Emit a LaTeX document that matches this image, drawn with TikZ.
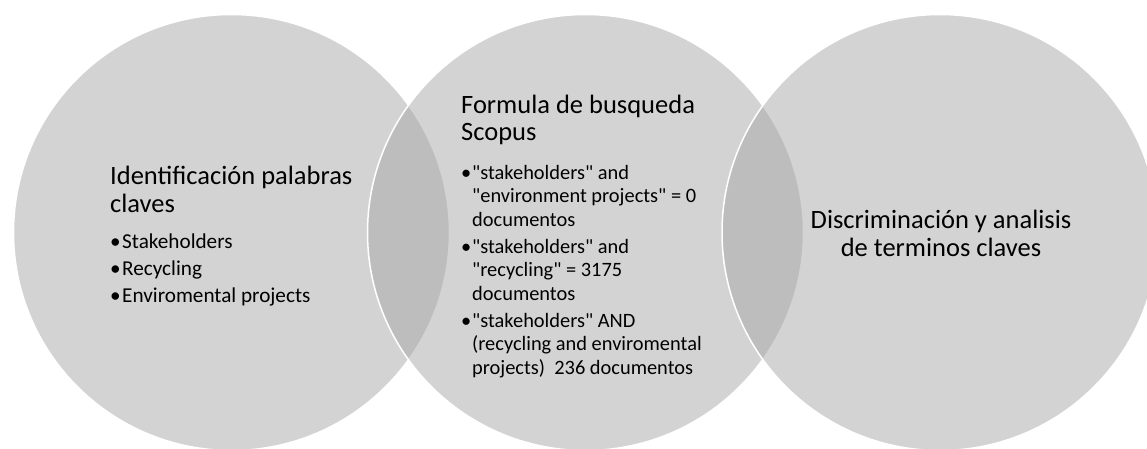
\documentclass[tikz,border=0pt]{standalone}
\usepackage{fontspec}
\setmainfont{Carlito}[Ligatures=TeXOff]
\newcommand{\bitem}[2][11pt]{\par\hangindent=#1\hangafter=1\noindent\makebox[#1][l]{•}#2}
\definecolor{venngray}{RGB}{168,168,168}
\tikzset{
  venn/.style={circle, inner sep=0pt, minimum size=436pt, fill=venngray, fill opacity=0.5, draw=white, line width=1.5pt},
  txt/.style={inner sep=0pt, text=black}
}
\begin{document}
\begin{tikzpicture}[x=1pt,y=-1pt]
\useasboundingbox (0,0) rectangle (1147,449);
\clip (0,0) rectangle (1147,449);
\node[venn] (c1) at (231.5,232.5) {};
\node[venn] (c2) at (585.5,232.5) {};
\node[venn] (c3) at (940,232.5) {};
\node[txt, anchor=base west] (t1) at (110,184) {\begin{minipage}[t]{260pt}\setlength{\parskip}{0pt}%
\fontsize{26.5}{28.6}\selectfont Identificación palabras\\claves\par
\vspace{9.3pt}%
\fontsize{21.2}{23.2}\selectfont\setlength{\parskip}{3.8pt}%
\bitem[12pt]{Stakeholders}%
\bitem[12pt]{Recycling}%
\bitem[12pt]{Enviromental projects}\par
\end{minipage}};
\node[txt, anchor=base west] (t2) at (461,113.3) {\begin{minipage}[t]{300pt}\setlength{\parskip}{0pt}%
\fontsize{26.5}{27.4}\selectfont Formula de busqueda\\Scopus\par
\vspace{11.4pt}%
\fontsize{20.4}{23.4}\selectfont\setlength{\parskip}{3.8pt}%
\bitem{"stakeholders" and\\"environment projects" = 0\\documentos}%
\bitem{"stakeholders" and\\"recycling" = 3175\\documentos}%
\bitem{"stakeholders" AND\\(recycling and enviromental\\projects)~~236 documentos}\par
\end{minipage}};
\node[txt, anchor=base] (t3) at (941,228.3) {\begin{minipage}[t]{320pt}\centering
\fontsize{26.5}{28.4}\selectfont Discriminación y analisis\\de terminos claves\par
\end{minipage}};
\end{tikzpicture}
\end{document}
